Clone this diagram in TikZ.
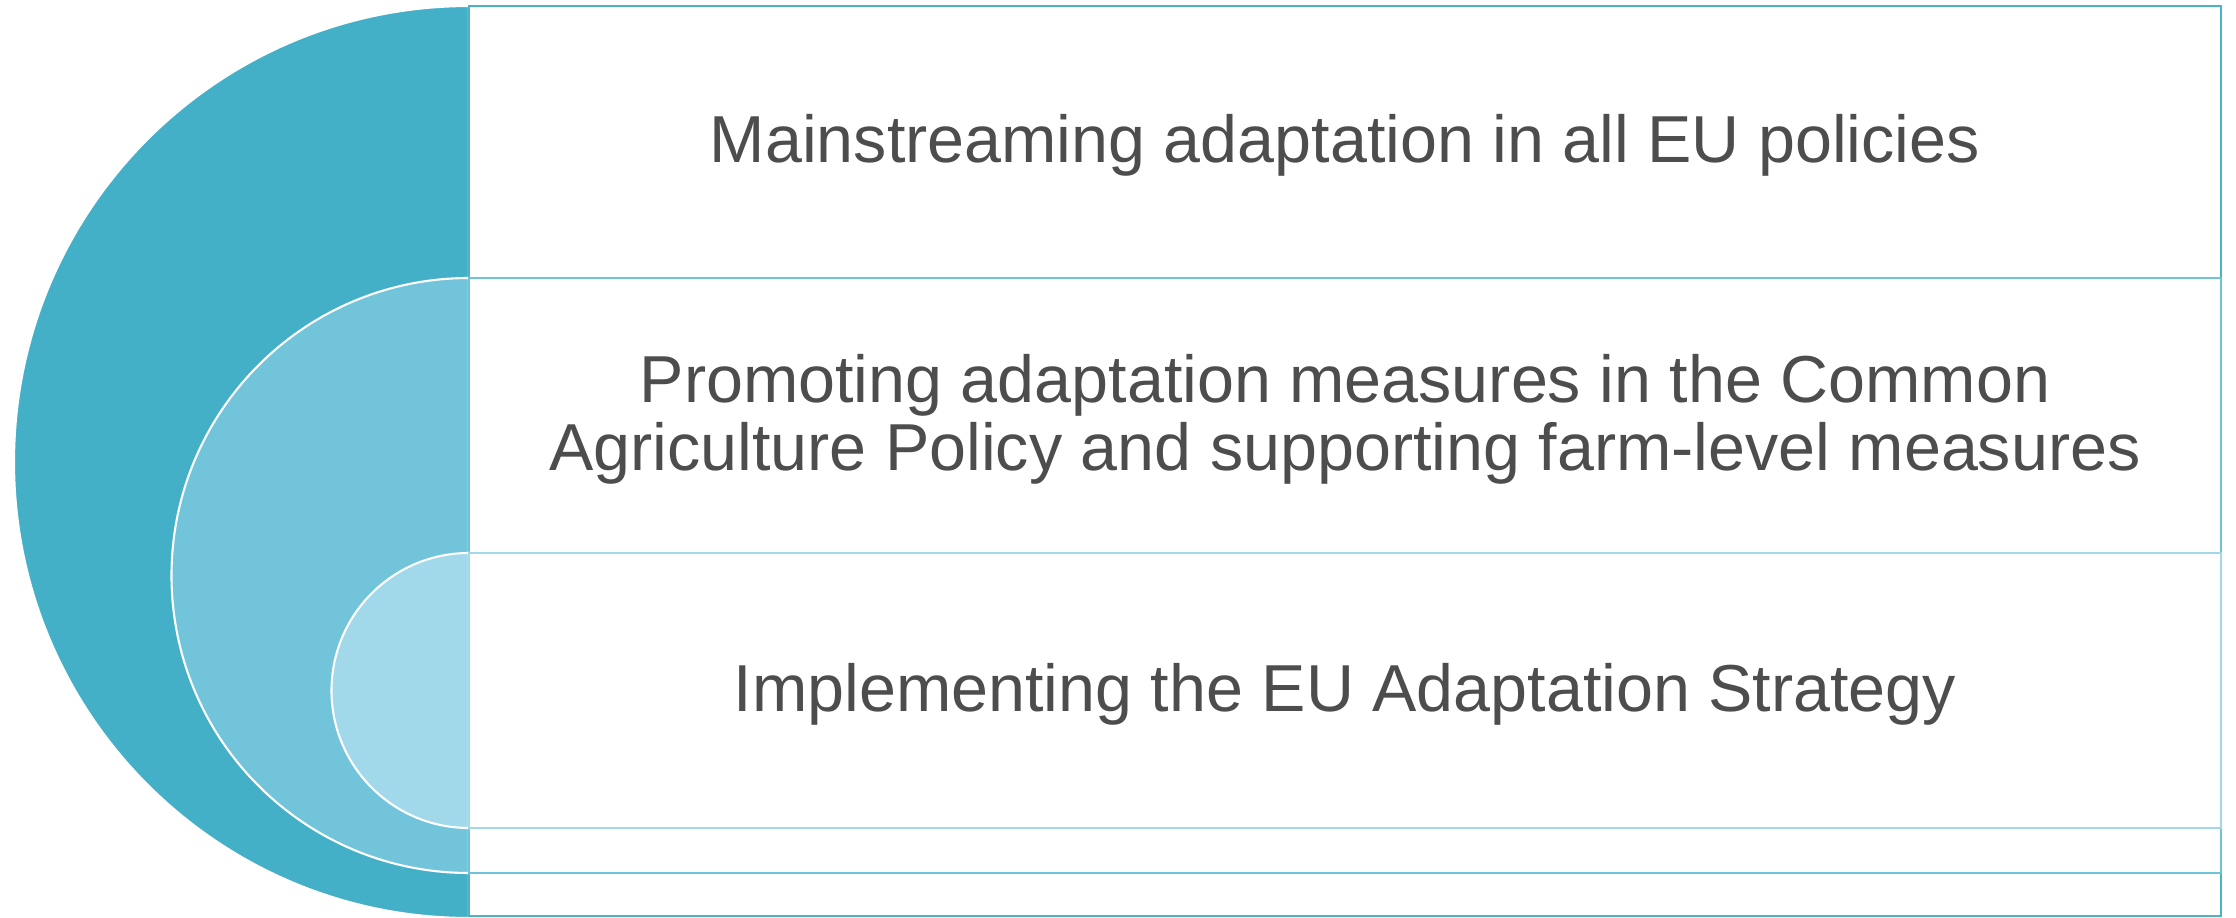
\documentclass[tikz,border=0pt]{standalone}
\usepackage{fontspec}
\setmainfont{Liberation Sans}
\usepackage{tikz}
\usetikzlibrary{positioning}
\definecolor{tealdark}{RGB}{68,176,200}
\definecolor{tealmid}{RGB}{114,196,218}
\definecolor{teallight}{RGB}{162,217,234}
\definecolor{edgedark}{RGB}{74,179,202}
\definecolor{edgemid}{RGB}{111,195,216}
\definecolor{edgelight}{RGB}{161,217,233}
\definecolor{labelgray}{RGB}{77,77,77}

\begin{document}
\begin{tikzpicture}[
    halfdisc/.style={draw=white, line width=0.6pt},
    levelbox/.style={fill=white, line width=0.75pt},
    levellabel/.style={text=labelgray, align=center, inner sep=0pt,
        font=\fontsize{18.9}{19.3}\selectfont}
]
    \useasboundingbox (0,0) rectangle (22.36,-9.18);
    \fill[white] (0,0) rectangle (22.36,-9.18);

    \draw[halfdisc, fill=tealdark] (4.69,-0.06) arc[start angle=90, end angle=270, x radius=4.55, y radius=4.56] -- cycle;
    \draw[levelbox, draw=edgedark] (4.69,-0.06) rectangle (22.21,-9.16);

    \draw[halfdisc, fill=tealmid] (4.69,-2.78) arc[start angle=90, end angle=270, radius=2.975] -- cycle;
    \draw[levelbox, draw=edgemid] (4.69,-2.78) rectangle (22.21,-8.73);

    \draw[halfdisc, fill=teallight] (4.69,-5.53) arc[start angle=90, end angle=270, radius=1.375] -- cycle;
    \draw[levelbox, draw=edgelight] (4.69,-5.53) rectangle (22.21,-8.28);

    \node[levellabel, anchor=base] (policies) at (13.45,-1.627) {Mainstreaming adaptation in all EU policies};
    \node[levellabel] (cap) at (13.45,-4.19) {Promoting adaptation measures in the Common\\Agriculture Policy and supporting farm-level measures};
    \node[levellabel, anchor=base] (strategy) at (13.45,-7.113) {Implementing the EU Adaptation Strategy};
\end{tikzpicture}
\end{document}
